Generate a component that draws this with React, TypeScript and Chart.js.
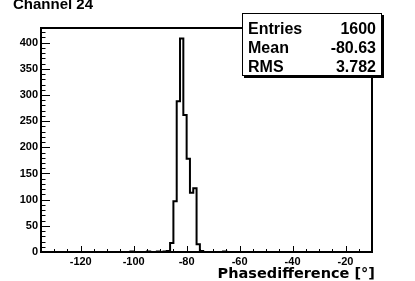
import React, { useEffect, useRef } from 'react';
import { Chart, registerables } from 'chart.js';

Chart.register(...registerables);

// ---- data ----
const histTitle = 'Channel 24';
const xAxisTitle = 'Phasedifference [°]';
const histMin = -135;
const histMax = -10;
const nBins = 100;
const filledBinLowEdges = [-101.25, -95, -91.25, -88.75, -87.5, -86.25, -85, -83.75, -82.5, -81.25, -80, -78.75, -77.5, -76.25, -75, -66.25];
const filledBinCounts = [1, 1, 1, 1, 2, 17, 97, 288, 408, 262, 178, 113, 122, 15, 2, 1];
const yAxisMax = 428;
const xMajorTicks = [-120, -100, -80, -60, -40, -20];
const yMajorTicks = [0, 50, 100, 150, 200, 250, 300, 350, 400];
const xMinorStep = 5;
const yMinorStep = 10;
const statsLabels = ['Entries', 'Mean', 'RMS'];
const statsValues = ['1600', '-80.63', '3.782'];

function buildPoints() {
  const w = (histMax - histMin) / nBins;
  const counts: number[] = new Array(nBins).fill(0);
  filledBinLowEdges.forEach((e, i) => {
    const idx = Math.round((e - histMin) / w);
    if (idx >= 0 && idx < nBins) counts[idx] = filledBinCounts[i];
  });
  const pts = counts.map((c, i) => ({ x: histMin + i * w, y: c }));
  pts.push({ x: histMax, y: 0 });
  return pts;
}

const decorPlugin = {
  id: 'rootDecor',
  afterDatasetsDraw(chart: any) {
    const ctx: CanvasRenderingContext2D = chart.ctx;
    const ca = chart.chartArea;
    const xs = chart.scales.x;
    const ys = chart.scales.y;
    ctx.save();
    ctx.strokeStyle = '#000';
    ctx.fillStyle = '#000';

    // frame
    ctx.lineWidth = 2;
    ctx.strokeRect(ca.left, ca.top, ca.right - ca.left, ca.bottom - ca.top);

    // ticks
    ctx.lineWidth = 1;
    ctx.beginPath();
    for (let v = 0; v <= yAxisMax; v += yMinorStep) {
      const py = Math.round(ys.getPixelForValue(v)) + 0.5;
      const len = yMajorTicks.includes(v) ? 9 : 4.5;
      ctx.moveTo(ca.left, py);
      ctx.lineTo(ca.left + len, py);
    }
    for (let v = histMin; v <= histMax; v += xMinorStep) {
      const px = Math.round(xs.getPixelForValue(v)) + 0.5;
      const len = xMajorTicks.includes(v) ? 6 : 3;
      ctx.moveTo(px, ca.bottom);
      ctx.lineTo(px, ca.bottom - len);
    }
    ctx.stroke();

    // tick labels
    ctx.font = 'bold 11px "Liberation Sans", Arial, sans-serif';
    ctx.textAlign = 'right';
    ctx.textBaseline = 'middle';
    yMajorTicks.forEach((v) => {
      ctx.fillText(String(v), ca.left - 3, ys.getPixelForValue(v));
    });
    ctx.textAlign = 'center';
    ctx.textBaseline = 'top';
    xMajorTicks.forEach((v) => {
      ctx.fillText(String(v), xs.getPixelForValue(v), ca.bottom + 4);
    });

    // axis title
    ctx.font = 'bold 14.5px "DejaVu Sans", sans-serif';
    ctx.textAlign = 'right';
    ctx.textBaseline = 'alphabetic';
    ctx.fillText(xAxisTitle, ca.right + 3, 278);

    // histogram title
    ctx.font = 'bold 15px "Liberation Sans", Arial, sans-serif';
    ctx.textAlign = 'left';
    ctx.fillText(histTitle, 13, 9);

    // stats box
    const bx = 242, by = 13, bw = 140, bh = 63;
    ctx.fillStyle = '#000';
    ctx.fillRect(bx + 2, by + 2, bw, bh);
    ctx.fillStyle = '#fff';
    ctx.fillRect(bx, by, bw, bh);
    ctx.lineWidth = 1;
    ctx.strokeRect(bx + 0.5, by + 0.5, bw - 1, bh - 1);
    ctx.fillStyle = '#000';
    ctx.font = 'bold 16px "Liberation Sans", Arial, sans-serif';
    statsLabels.forEach((l, i) => {
      const yy = 34 + i * 19;
      ctx.textAlign = 'left';
      ctx.fillText(l, bx + 6, yy);
      ctx.textAlign = 'right';
      ctx.fillText(statsValues[i], bx + bw - 6, yy);
    });
    ctx.restore();
  },
};

export default function App() {
  const ref = useRef<HTMLCanvasElement | null>(null);
  useEffect(() => {
    if (!ref.current) return;
    const chart = new Chart(ref.current, {
      type: 'line',
      data: {
        datasets: [
          {
            data: buildPoints(),
            borderColor: '#000',
            borderWidth: 2,
            stepped: true,
            pointRadius: 0,
            fill: false,
            tension: 0,
          },
        ],
      },
      options: {
        animation: false,
        responsive: false,
        devicePixelRatio: 1,
        layout: { padding: { left: 41, right: 43, top: 28, bottom: 29 } },
        scales: {
          x: { type: 'linear', min: histMin, max: histMax, display: false },
          y: { type: 'linear', min: 0, max: yAxisMax, display: false },
        },
        plugins: { legend: { display: false }, tooltip: { enabled: false } },
      },
      plugins: [decorPlugin],
    });
    return () => chart.destroy();
  }, []);
  return (
    <div style={{ position: 'absolute', left: 0, top: 0, width: 415, height: 281, background: '#fff' }}>
      <canvas ref={ref} width={415} height={281} style={{ display: 'block' }} />
    </div>
  );
}
